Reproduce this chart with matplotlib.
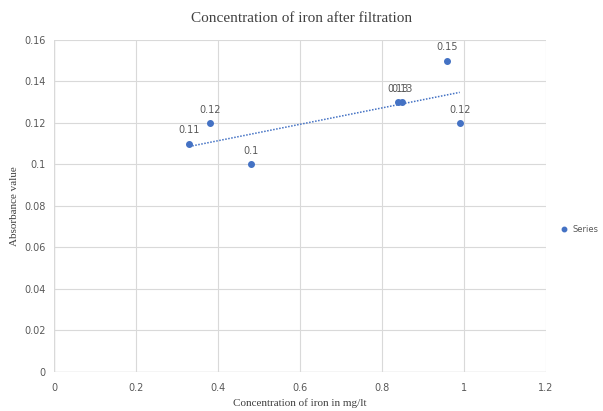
import numpy as np
import matplotlib
matplotlib.use("Agg")
import matplotlib.pyplot as plt

# Concentration of iron (mg/lt) vs absorbance readings
conc = [0.33, 0.38, 0.48, 0.84, 0.85, 0.96, 0.99]
absorb = [0.11, 0.12, 0.10, 0.13, 0.13, 0.15, 0.12]
x_ticks = [0, 0.2, 0.4, 0.6, 0.8, 1, 1.2]
y_ticks = [0, 0.02, 0.04, 0.06, 0.08, 0.1, 0.12, 0.14, 0.16]

BLUE = "#4472C4"
GRID = "#d9d9d9"
TICK = "#595959"

fig = plt.figure(figsize=(6.03, 4.11), dpi=100, facecolor="white")
ax = fig.add_axes([0.0896, 0.095, 0.8155, 0.808])

ax.scatter(conc, absorb, s=16, color=BLUE, zorder=3, label="Series")
for xv, yv in zip(conc, absorb):
    ax.annotate(f"{yv:g}", (xv, yv), xytext=(0, 6), textcoords="offset points",
                ha="center", va="bottom", fontsize=7, color=TICK)

# linear trendline over the data range
k, b = np.polyfit(conc, absorb, 1)
xs = np.array([min(conc), max(conc)])
ax.plot(xs, k * xs + b, linestyle=(0, (1, 1)), color=BLUE, lw=1.1, zorder=2)

ax.set_xlim(0, 1.2)
ax.set_ylim(0, 0.16)
ax.set_xticks(x_ticks)
ax.set_yticks(y_ticks)
ax.set_xticklabels([f"{t:g}" for t in x_ticks])
ax.set_yticklabels([f"{t:g}" for t in y_ticks])
ax.grid(True, color=GRID, lw=0.8)
ax.set_axisbelow(True)
for s in ax.spines.values():
    s.set_visible(False)
ax.axhline(0, color=GRID, lw=1.0, zorder=1)
ax.axvline(0, color=GRID, lw=1.0, zorder=1)
ax.tick_params(axis="x", length=0, labelsize=7, colors=TICK, pad=8)
ax.tick_params(axis="y", length=0, labelsize=7, colors=TICK, pad=6)

serif = ["Liberation Serif", "DejaVu Serif"]
fig.text(0.5, 0.955, "Concentration of iron after filtration", ha="center",
         va="center", fontsize=11, color="#404040", family=serif)
ax.set_xlabel("Concentration of iron in mg/lt", fontsize=8, color="#404040",
              family=serif, labelpad=4)
ax.set_ylabel("Absorbance value", fontsize=8, color="#404040",
              family=serif, labelpad=4)

ax.legend(loc="center left", bbox_to_anchor=(1.02, 0.43), frameon=False,
          fontsize=6, labelcolor=TICK, handletextpad=0.0, markerscale=0.8,
          borderaxespad=0.0, borderpad=0.0)

fig.savefig("out.png", dpi=100, facecolor="white")
